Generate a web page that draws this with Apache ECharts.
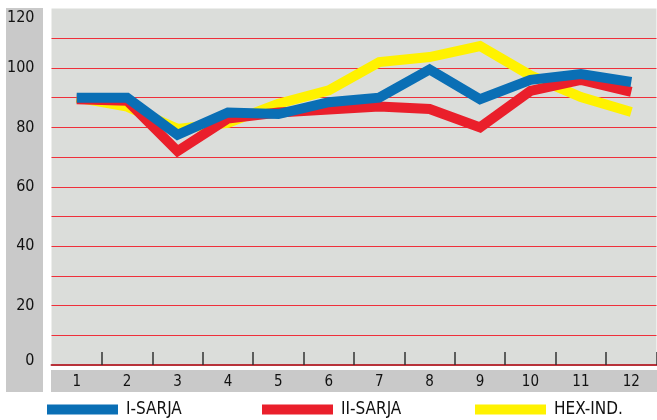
<!DOCTYPE html>
<html><head><meta charset="utf-8">
<script src="https://cdn.jsdelivr.net/npm/echarts@6/dist/echarts.min.js"></script>
<style>html,body{margin:0;padding:0;background:#fff}#c{width:657px;height:420px}</style>
</head><body><div id="c"></div>
<script>
const months = ['1','2','3','4','5','6','7','8','9','10','11','12'];
const sarja1 = [90, 90, 77.5, 85, 84.5, 88.5, 90, 99.5, 89.5, 96, 98, 95.3];
const sarja2 = [89.5, 89, 72, 83, 85, 86, 87, 86.2, 80, 92.3, 96, 92];
const hexInd = [90, 87, 79.5, 81.5, 88, 92.5, 102, 103.7, 107.4, 97.5, 90.2, 85.2];
const seriesNames = ['I-SARJA', 'II-SARJA', 'HEX-IND.'];
const yTicks = [0, 20, 40, 60, 80, 100, 120];

const FONT = "'Liberation Sans Narrow','DejaVu Sans Condensed','Roboto',sans-serif";
const colors = ['#0a6fb5', '#ea1f2b', '#fff200'];

const chart = echarts.init(document.getElementById('c'), null, {renderer: 'canvas'});
function lineSeries(name, data, color, z) {
  return {
    name, type: 'line', data, symbol: 'none', z,
    lineStyle: {width: 10, color, cap: 'butt', join: 'miter'},
    itemStyle: {color}
  };
}
function legend(name, left) {
  return {
    data: [name], left, top: 396, icon: 'rect', itemWidth: 71, itemHeight: 10, itemGap: 0,
    textStyle: {fontFamily: FONT, fontSize: 17, color: '#111', padding: [0, 0, 0, 3]}
  };
}
chart.setOption({
  animation: false,
  backgroundColor: '#ffffff',
  grid: {left: 51.5, right: 0.5, top: 8.6, bottom: 55, show: true,
         backgroundColor: '#dbddda', borderWidth: 0},
  graphic: [
    {type: 'rect', z: -1, shape: {x: 6, y: 8, width: 37, height: 384}, style: {fill: '#c9c9c9'}},
    {type: 'rect', z: -1, shape: {x: 51, y: 370, width: 606, height: 22}, style: {fill: '#c9c9c9'}}
  ],
  legend: [legend(seriesNames[0], 42), legend(seriesNames[1], 257), legend(seriesNames[2], 470)],
  xAxis: {
    type: 'category', data: months, boundaryGap: true,
    axisLine: {show: true, lineStyle: {color: '#b8323a', width: 2}},
    axisTick: {show: true, inside: true, length: 13, interval: (i) => i !== 0,
               lineStyle: {color: '#333', width: 1.5}},
    axisLabel: {margin: 10, fontFamily: FONT, fontSize: 15, color: '#111'}
  },
  yAxis: {
    type: 'value', min: 0, max: 120, interval: 10,
    axisLine: {show: false}, axisTick: {show: false},
    axisLabel: {
      margin: 17, fontFamily: FONT, fontSize: 16, color: '#111',
      formatter: v => {
        if (yTicks.indexOf(v) < 0) return '';
        if (v === 120) return '{t|' + v + '}';
        if (v === 0) return '{b|' + v + '}';
        return String(v);
      },
      rich: {
        t: {fontFamily: FONT, fontSize: 16, color: '#111', padding: [18, 0, 0, 0]},
        b: {fontFamily: FONT, fontSize: 16, color: '#111', padding: [0, 0, 8, 0]}
      }
    },
    splitLine: {show: true, showMinLine: false, showMaxLine: false, lineStyle: {color: '#ef2f3a', width: 1}}
  },
  series: [
    lineSeries(seriesNames[2], hexInd, colors[2], 2),
    lineSeries(seriesNames[1], sarja2, colors[1], 3),
    lineSeries(seriesNames[0], sarja1, colors[0], 4)
  ]
});
</script></body></html>
